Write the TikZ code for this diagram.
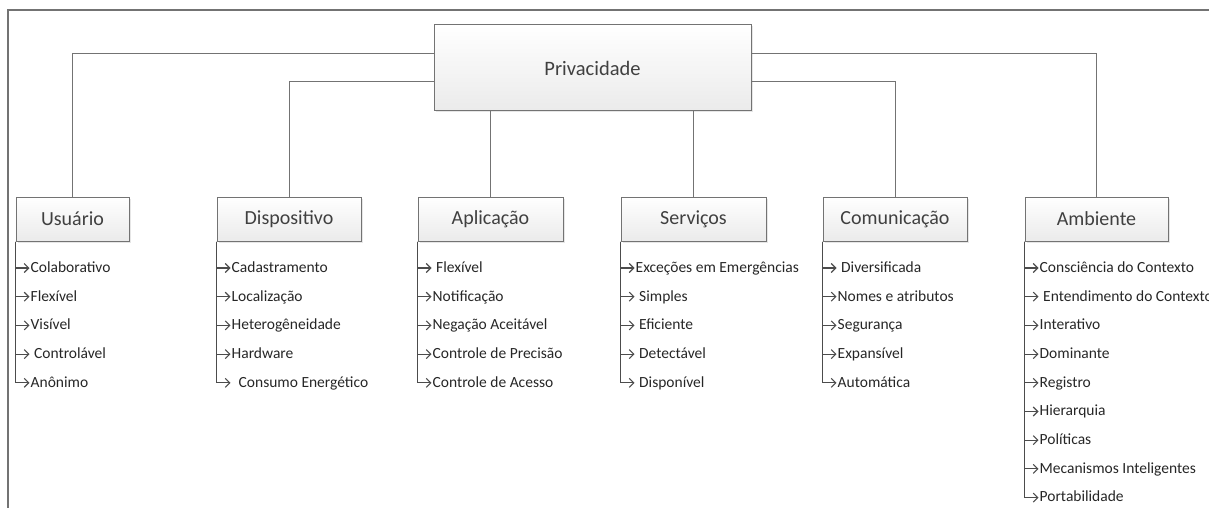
\documentclass[tikz,border=0pt]{standalone}
\usepackage{fontspec}
\setmainfont{Carlito}
\usetikzlibrary{arrows.meta,shadows}
\definecolor{linegray}{rgb}{0.45,0.45,0.45}
\definecolor{labelgray}{rgb}{0.25,0.25,0.25}
\tikzset{
    catbox/.style={draw=linegray, line width=1pt, top color=white, bottom color=gray!16,
        drop shadow={opacity=0.2, shadow xshift=1.5pt, shadow yshift=-1.5pt},
        minimum height=44pt, inner sep=0pt, text=labelgray, font=\fontsize{20}{20}\selectfont},
    link/.style={draw=linegray, line width=1pt},
    itemtext/.style={anchor=mid west, inner sep=1pt, text=black!85, font=\fontsize{15.5}{15.5}\selectfont},
    itemarrow/.style={draw=black!70, line width=1.1pt, -{Straight Barb[length=4.5pt,width=9pt]}}
}

\begin{document}
\begin{tikzpicture}[x=1pt,y=-1pt]
    \useasboundingbox (0,0) rectangle (1209,508);
    \draw[linegray, line width=1.6pt] (8,508) -- (8,10) -- (1209,10);

    \node[catbox, minimum width=317pt, minimum height=86pt, font=\fontsize{20.5}{20.5}\selectfont] (priv) at (592.5,68) {Privacidade};

    \node[catbox, minimum width=113pt] (usu)  at (72.5,219)  {Usuário};
    \node[catbox, minimum width=144pt] (disp) at (289,219)   {Dispositivo};
    \node[catbox, minimum width=145pt] (apl)  at (490.5,219) {Aplicação};
    \node[catbox, minimum width=145pt] (serv) at (693.5,219) {Serviços};
    \node[catbox, minimum width=144pt] (com)  at (895,219)   {Comunicação};
    \node[catbox, minimum width=143pt] (amb)  at (1096.5,219) {Ambiente};

    \draw[link] ([yshift=14pt]priv.west) -| (usu.north);
    \draw[link] ([yshift=-14pt]priv.west) -| (disp.north);
    \draw[link] (apl.north |- priv.south) -- (apl.north);
    \draw[link] (serv.north |- priv.south) -- (serv.north);
    \draw[link] ([yshift=-14pt]priv.east) -| (com.north);
    \draw[link] ([yshift=14pt]priv.east) -| (amb.north);

    \foreach \cat/\list in {
        usu/{Colaborativo,Flexível,Visível,\ Controlável,Anônimo},
        disp/{Cadastramento,Localização,Heterogêneidade,Hardware,\ \ Consumo Energético},
        apl/{\ Flexível,Notificação,Negação Aceitável,Controle de Precisão,Controle de Acesso},
        serv/{Exceções em Emergências,\ Simples,\ Eficiente,\ Detectável,\ Disponível},
        com/{\ Diversificada,Nomes e atributos,Segurança,Expansível,Automática},
        amb/{Consciência do Contexto,\ Entendimento do Contexto,Interativo,Dominante,Registro,Hierarquia,Políticas,Mecanismos Inteligentes,Portabilidade}}{
        \foreach \txt [count=\i] in \list {
            \path (\cat.south west) ++(14,{28.5+(\i-1)*28.7}) node[itemtext] (\cat-\i) {\txt};
            \draw[itemarrow] (\cat.south west) |- ([yshift=2pt]\cat-\i.mid west);
        }
    }
\end{tikzpicture}
\end{document}
